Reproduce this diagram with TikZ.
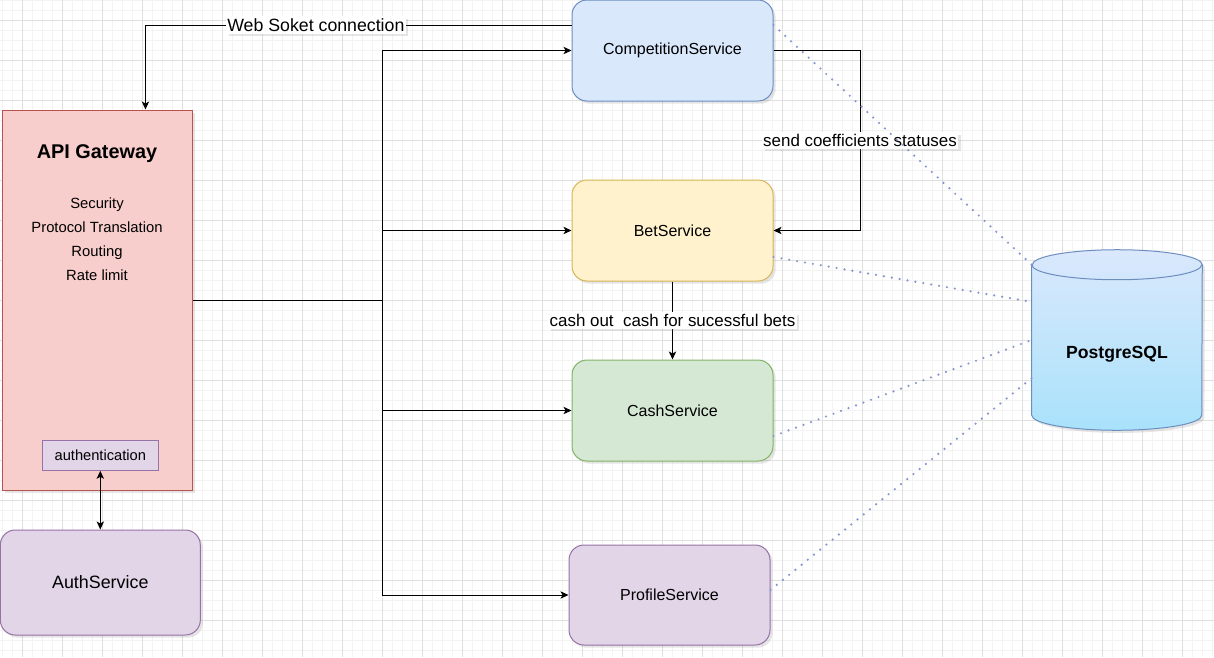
\documentclass[tikz,border=0pt]{standalone}
\usepackage{fontspec}
\setmainfont{Liberation Sans}
\usetikzlibrary{arrows.meta,calc,shadows}

\definecolor{compfill}{HTML}{DAE8FC}
\definecolor{compline}{HTML}{6C8EBF}
\definecolor{betfill}{HTML}{FFF2CC}
\definecolor{betline}{HTML}{D6B656}
\definecolor{cashfill}{HTML}{D5E8D4}
\definecolor{cashline}{HTML}{82B366}
\definecolor{proffill}{HTML}{E1D5E7}
\definecolor{profline}{HTML}{9673A6}
\definecolor{gwfill}{HTML}{F8CECC}
\definecolor{gwline}{HTML}{B85450}
\definecolor{dbtop}{HTML}{DAE8FC}
\definecolor{dbbottom}{HTML}{A9E2FB}
\definecolor{dbdots}{HTML}{8494D0}
\definecolor{minorcol}{HTML}{F3F3F3}
\definecolor{majorcol}{HTML}{E0E0E0}

\tikzset{
  shade box/.style={drop shadow={shadow xshift=2pt,shadow yshift=-2pt,opacity=0.2}},
  service/.style={draw,rounded corners=11.25pt,line width=0.75pt,
    minimum width=150.75pt,minimum height=75.75pt,
    font=\fontsize{12}{14}\selectfont,shade box},
  conn/.style={line width=0.75pt,->},
  edgelabel/.style={fill=white,inner xsep=1pt,inner ysep=1.5pt,
    font=\fontsize{12.7}{15}\selectfont,shade box},
  dblink/.style={dbdots,line width=1.8pt,line cap=round,dash pattern=on 0pt off 6pt},
  fine grid/.style={minorcol,line width=0.75pt},
  bold grid/.style={majorcol,line width=0.75pt},
}

\begin{document}
\begin{tikzpicture}[x=0.75pt,y=-0.75pt,>={Stealth[length=6pt,width=5.5pt,inset=1.5pt]}]
  \useasboundingbox (0,0) rectangle (1214,657);

  % background grid
  \fill[white] (0,0) rectangle (1214,657);
  \foreach \gx in {2.5,12.5,...,1212.5}
    \draw[fine grid] (\gx,0) -- (\gx,657);
  \foreach \gy in {0.5,10.5,...,650.5}
    \draw[fine grid] (0,\gy) -- (1214,\gy);
  \foreach \gx in {22.5,62.5,...,1182.5}
    \draw[bold grid] (\gx,0) -- (\gx,657);
  \foreach \gy in {20.5,60.5,...,620.5}
    \draw[bold grid] (0,\gy) -- (1214,\gy);

  % Services in the middle column
  \node[service,fill=compfill,draw=compline] (comp) at (672.5,50.5) {CompetitionService};
  \node[service,fill=betfill,draw=betline] (bet) at (672.5,230.5) {BetService};
  \node[service,fill=cashfill,draw=cashline] (cash) at (672.5,410.5) {CashService};
  \node[service,fill=proffill,draw=profline,minimum height=75pt] (prof) at (669.5,595) {ProfileService};

  % Gateway on the left
  \node[draw=gwline,fill=gwfill,line width=0.75pt,minimum width=142.5pt,
        minimum height=285pt,shade box] (gw) at (97.7,300) {};
  \node[font=\bfseries\fontsize{14.9}{17}\selectfont] (gwtitle) at (97,154) {API Gateway};
  \node[align=center,font=\fontsize{11.1}{18}\selectfont] (gwtasks) at (97,239.5)
        {Security\\Protocol Translation\\Routing\\Rate limit};
  \node[draw=profline,fill=proffill,line width=0.75pt,minimum width=87pt,
        minimum height=22.5pt,font=\fontsize{11}{13}\selectfont] (authn) at (100.3,455.3) {authentication};

  % AuthService below the gateway
  \node[service,fill=proffill,draw=profline,minimum width=150pt,minimum height=78.75pt,
        font=\fontsize{13.4}{16}\selectfont] (authsvc) at (100.3,582.5) {AuthService};

  % Database on the right
  \node[minimum width=127.5pt,minimum height=135pt] (db) at (1117,340) {};
  \path[draw=compline,line width=0.75pt,top color=dbtop,bottom color=dbbottom,shade box]
    ([yshift=-11.25pt]db.north west) -- ([yshift=11.25pt]db.south west)
    arc[start angle=180,end angle=360,x radius=63.75pt,y radius=11.25pt]
    -- ([yshift=-11.25pt]db.north east)
    arc[start angle=0,end angle=180,x radius=63.75pt,y radius=11.25pt] -- cycle;
  \draw[compline,line width=0.75pt] ([yshift=-11.25pt]db.north west)
    arc[start angle=180,end angle=360,x radius=63.75pt,y radius=11.25pt];
  \node[font=\bfseries\fontsize{13.2}{16}\selectfont] (dbname) at (1117,354) {PostgreSQL};

  % Gateway routes to every service
  \coordinate (fork) at (382.3,300);
  \foreach \svc in {comp,bet,cash,prof}
    \draw[conn] (gw.east) -- (fork) |- (\svc.west);

  % web socket back to the gateway
  \draw[conn] ($(comp.north west)!0.25!(comp.south west)$)
    -| node[edgelabel,pos=0.3,font=\fontsize{13.3}{16}\selectfont] {Web Soket connection}
    ($(gw.north west)!0.75!(gw.north east)$);

  \draw[conn] (comp.east) -- ++(86.5,0)
    |- node[edgelabel,pos=0.25] {send coefficients statuses} (bet.east);

  \draw[conn] (bet) -- node[edgelabel] {cash out\ \ cash for sucessful bets} (cash);

  \draw[conn,<->] (authn) -- (authsvc);

  % dotted links to the database
  \foreach \svc/\from/\to in {comp/0.25/0.083,bet/0.76/0.289,cash/0.75/0.5,prof/0.45/0.711}
    \draw[dblink] ($(\svc.north east)!\from!(\svc.south east)$)
      -- ($(db.north west)!\to!(db.south west)$);
\end{tikzpicture}
\end{document}
